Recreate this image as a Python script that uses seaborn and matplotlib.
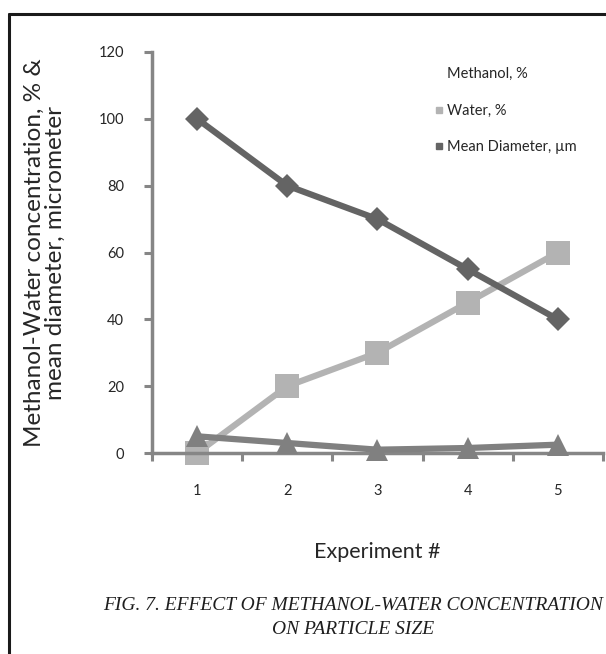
import matplotlib
matplotlib.use("Agg")
import matplotlib.pyplot as plt
import seaborn as sns
from matplotlib.lines import Line2D

experiments = [1, 2, 3, 4, 5]
methanol = [5, 3, 1, 1.5, 2.5]
water = [0, 20, 30, 45, 60]
mean_diameter = [100, 80, 70, 55, 40]
yticks = [0, 20, 40, 60, 80, 100, 120]

sns.set_theme(style="white")
plt.rcParams['font.family'] = ['Lato', 'DejaVu Sans']

fig = plt.figure(figsize=(6.06, 6.54), dpi=100)
ax = fig.add_axes([0.2508, 0.3073, 0.744, 0.6132])

c_water = "#b3b3b3"
c_diam = "#646464"
c_meth = "#808080"

sns.lineplot(x=experiments, y=water, ax=ax, color=c_water, lw=4.5, marker="s",
             markersize=17, markeredgewidth=0, zorder=2)
sns.lineplot(x=experiments, y=mean_diameter, ax=ax, color=c_diam, lw=4.5, marker="D",
             markersize=12.5, markeredgewidth=0, zorder=3)
sns.lineplot(x=experiments, y=methanol, ax=ax, color=c_meth, lw=4.5, marker="^",
             markersize=16, markeredgewidth=0, zorder=4)
for l in ax.lines:
    l.set_clip_on(False)

ax.set_xlim(0.5, 5.5)
ax.set_ylim(0, 120)
ax.set_yticks(yticks)
ax.set_yticklabels([str(v) for v in yticks], fontsize=10.5)
ax.set_xticks(experiments)
ax.set_xticklabels([str(v) for v in experiments], fontsize=10.5)
ax.set_xticks([1.5, 2.5, 3.5, 4.5, 5.5, 0.5], minor=True)
ax.tick_params(axis='x', which='major', bottom=True, length=0, pad=22)
ax.tick_params(axis='x', which='minor', bottom=True, length=6, width=2.2,
               color="#868686", direction='out')
ax.tick_params(axis='y', which='major', left=True, length=6, width=2.2,
               color="#868686", direction='out', pad=14)

for s in ['top', 'right']:
    ax.spines[s].set_visible(False)
for s in ['left', 'bottom']:
    ax.spines[s].set_color("#868686")
    ax.spines[s].set_linewidth(2.5)

ax.set_xlabel("Experiment #", fontsize=15.5, labelpad=32)
ax.set_ylabel("Methanol-Water concentration, % &\nmean diameter, micrometer",
              fontsize=17.5, labelpad=24, linespacing=1.0)

handles = [
    Line2D([], [], color='none', marker='s', markersize=0, linestyle='none'),
    Line2D([], [], color=c_water, marker='s', markersize=5, linestyle='none'),
    Line2D([], [], color=c_diam, marker='s', markersize=5, linestyle='none'),
]
ax.legend(handles, ["Methanol, %", "Water, %", "Mean Diameter, µm"],
          loc='upper left', bbox_to_anchor=(0.6, 0.995), frameon=False,
          fontsize=10.5, handlelength=0.5, handletextpad=0.3, labelspacing=1.55)

caption_kw = dict(ha='center', va='center', fontsize=14, style='italic',
                  family=['Liberation Serif'], color="#1e1e1e")
fig.text(0.583, 1 - 606 / 654, "FIG. 7. EFFECT OF METHANOL-WATER CONCENTRATION", **caption_kw)
fig.text(0.583, 1 - 630 / 654, "ON PARTICLE SIZE", **caption_kw)

fig.add_artist(Line2D([0.015, 1.0], [1 - 13.5 / 654, 1 - 13.5 / 654],
                      transform=fig.transFigure, color="#1a1a1a", lw=2.2))
fig.add_artist(Line2D([0.015, 0.015], [0.0, 1 - 13.5 / 654],
                      transform=fig.transFigure, color="#1a1a1a", lw=2.2))

fig.savefig("out.png", dpi=100)
